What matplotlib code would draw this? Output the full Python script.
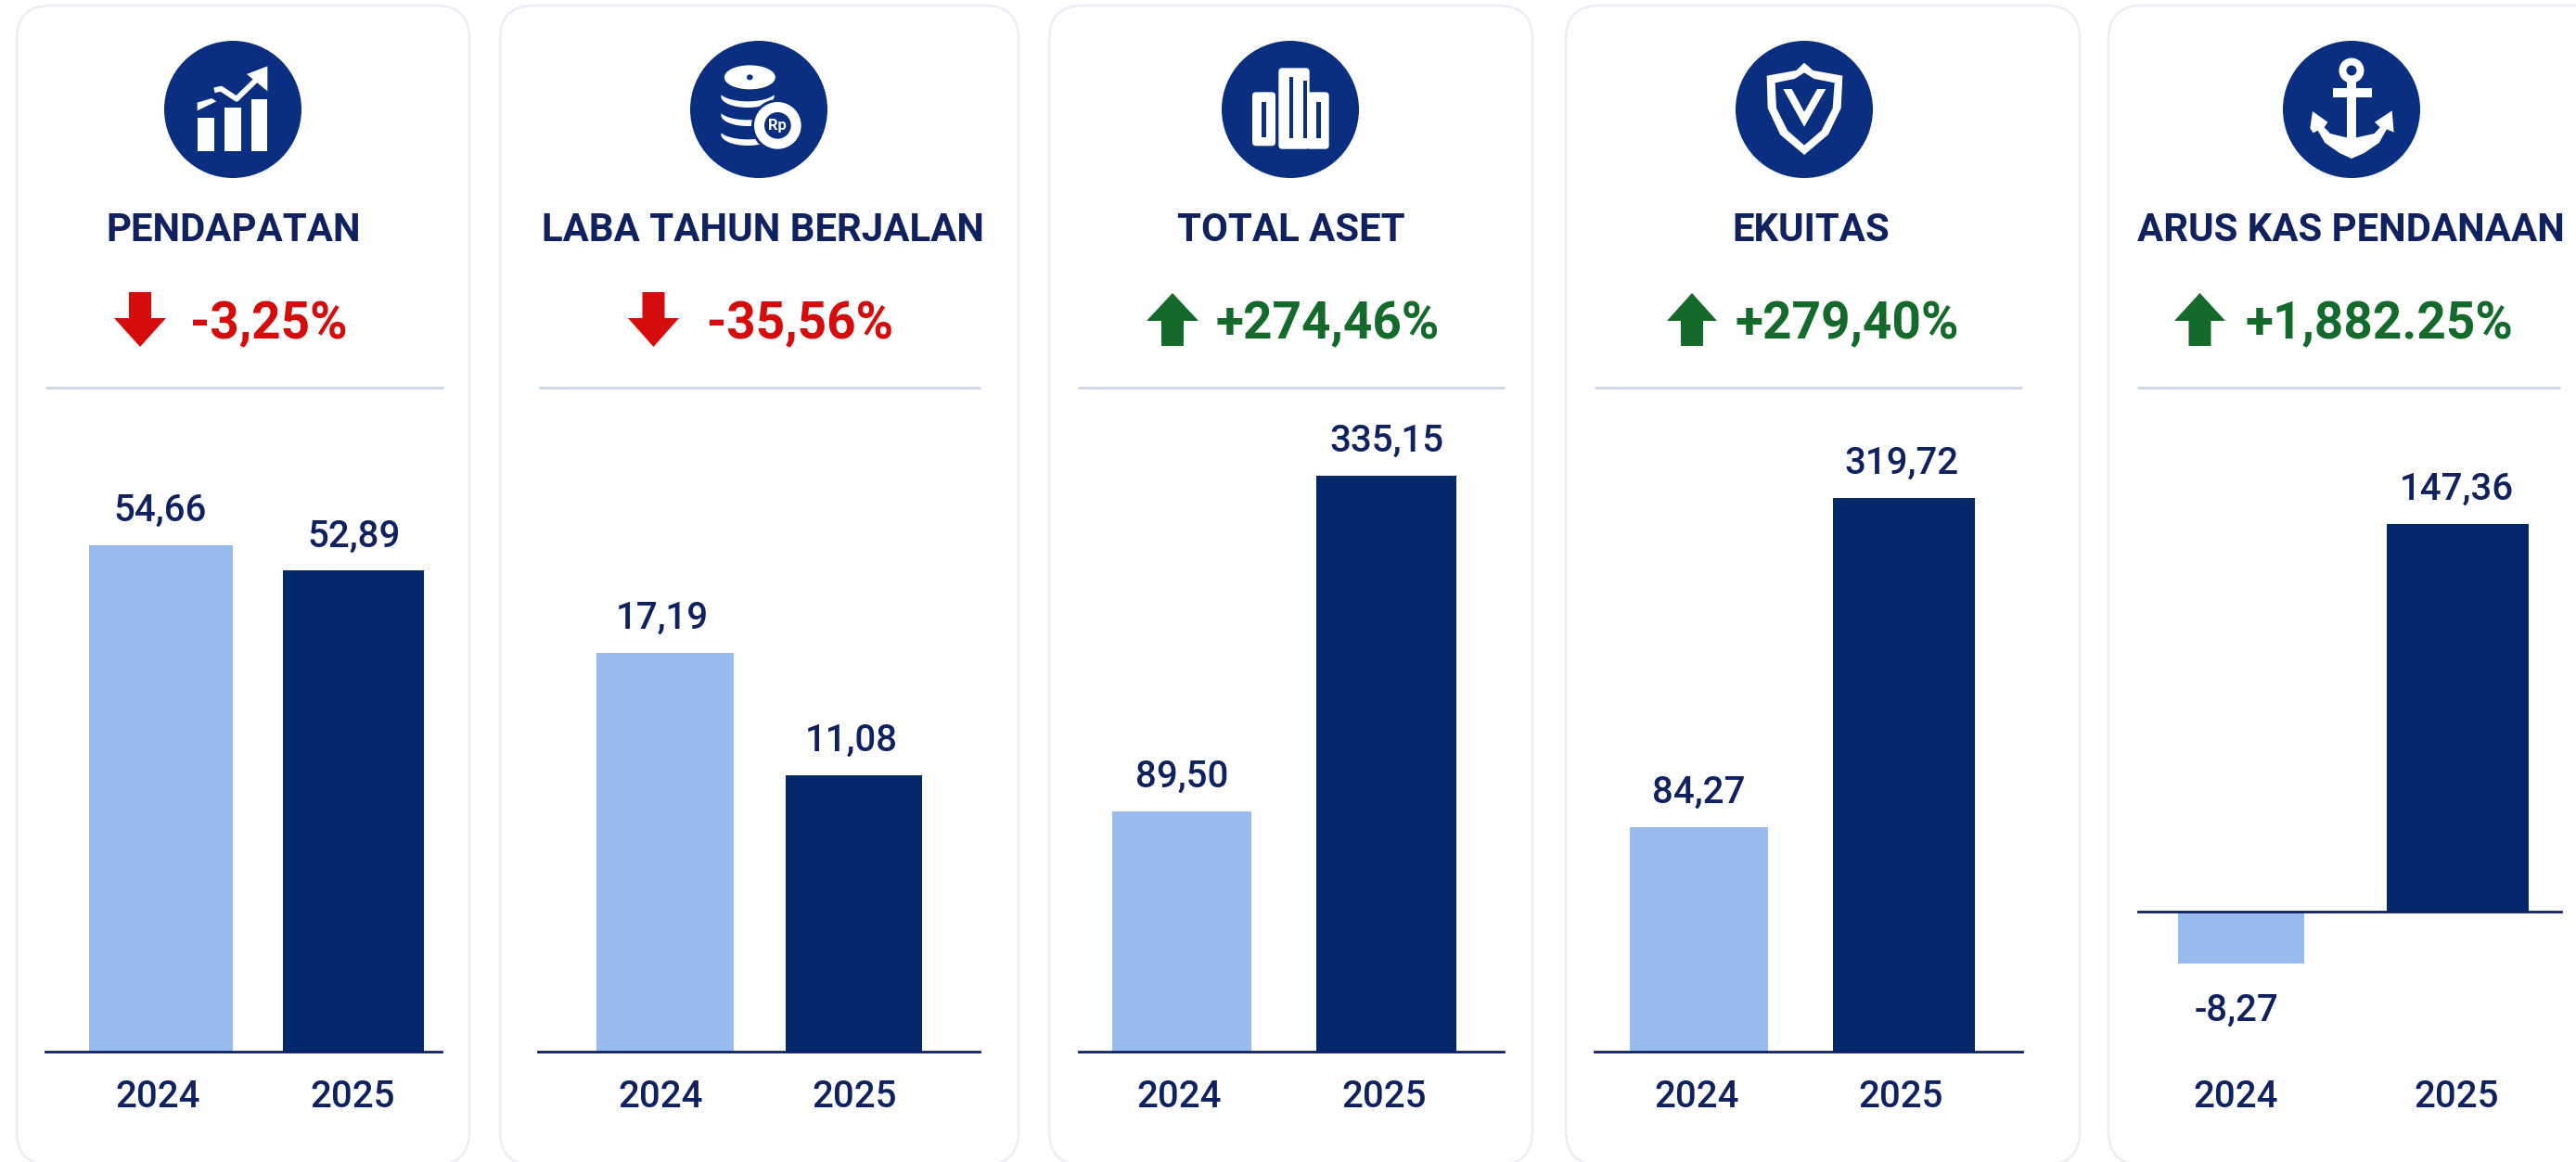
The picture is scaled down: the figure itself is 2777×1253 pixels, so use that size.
import matplotlib
matplotlib.use("Agg")
import matplotlib.pyplot as plt
from matplotlib.patches import Circle, Ellipse, FancyBboxPatch, Polygon

plt.rcParams['font.family'] = ['Roboto', 'DejaVu Sans']

# data
titles = ["PENDAPATAN", "LABA TAHUN BERJALAN", "TOTAL ASET", "EKUITAS", "ARUS KAS PENDANAAN"]
changes = ["-3,25%", "-35,56%", "+274,46%", "+279,40%", "+1,882.25%"]
years = ["2024", "2025"]
labels_2024 = ["54,66", "17,19", "89,50", "84,27", "-8,27"]
labels_2025 = ["52,89", "11,08", "335,15", "319,72", "147,36"]
# the bars in the reference are not to scale with their labels, so these are
# the heights as drawn, read against the tallest bar of each card
drawn_2024 = [54.66, 17.19, 139.9, 129.6, -19.7]
drawn_2025 = [51.91, 11.91, 335.15, 319.72, 147.36]

# colours
NAVY = "#03276B"
LIGHT = "#97BBEE"
TEXT = "#10215F"
ICON = "#0B2F80"
RED = "#D40C0C"
GREEN = "#146A2B"
RULE = "#CBD5E6"
CARD_EDGE = "#ECEEF5"

# layout, in reference pixels
W, H = 2777, 1253
cards = [(18, 506), (539, 1098), (1131, 1652), (1688, 2242), (2273, 2860)]
icon_x = [251, 818, 1391, 1945, 2535]
icon_y = 118
title_x = [252, 823, 1392, 1952, 2534]
arrow_x = [(123, 179), (677, 732), (1236, 1292), (1797, 1851), (2344, 2399)]
change_x = [205, 762, 1310, 1870, 2420]
rule_x = [(49, 478), (581, 1057), (1162, 1622), (1719, 2180), (2304, 2760)]
line_x = [(49, 476), (580, 1056), (1163, 1621), (1719, 2180), (2305, 2761)]
bars_2024 = [(96, 251), (643, 791), (1199, 1349), (1757, 1906), (2348, 2484)]
bars_2025 = [(305, 457), (847, 994), (1419, 1570), (1976, 2129), (2573, 2726)]
tick_x = [(170, 380), (712, 921), (1271, 1492), (1829, 2049), (2410, 2648)]
value_x = [(173, 382), (714, 918), (1274, 1495), (1831, 2050), (2411, 2648)]
base_y = [1134, 1134, 1134, 1134, 983]
tall_px = [546, 430, 621, 597, 418]
AX_TOP, AX_BOTTOM = 430, 1134

fig = plt.figure(figsize=(W / 100, H / 100), dpi=100, facecolor="white")
bg = fig.add_axes([0, 0, 1, 1])
bg.set_xlim(0, W)
bg.set_ylim(H, 0)
bg.axis("off")


def zpts(cx, cy, zc, points):
    return [(cx + (x - zc[0]) / 3, cy + (y - zc[1]) / 3) for x, y in points]


def white_poly(cx, cy, zc, points, color="white"):
    bg.add_patch(Polygon(zpts(cx, cy, zc, points), closed=True, fc=color, ec="none", zorder=4))


def icon_growth(cx, cy):
    zc = (303, 264)
    for x0, x1, y0 in [(188, 243, 290), (275, 330, 258), (362, 415, 230)]:
        white_poly(cx, cy, zc, [(x0, y0), (x1, y0), (x1, 398), (x0, 398)])
    white_poly(cx, cy, zc, [(188, 242), (235, 228), (250, 238), (188, 268)])
    line = zpts(cx, cy, zc, [(243, 202), (265, 197), (315, 230), (385, 162)])
    bg.plot([p[0] for p in line], [p[1] for p in line], color="white", lw=4.2, zorder=4, solid_capstyle="butt")
    white_poly(cx, cy, zc, [(348, 150), (415, 124), (415, 205)])


def icon_coins(cx, cy):
    def ell(zx, zy, w, h, color):
        (px, py), = zpts(cx, cy, (294, 264), [(zx, zy)])
        bg.add_patch(Ellipse((px, py), w / 3, h / 3, fc=color, ec="none", zorder=4))

    for y in [335, 272, 212]:
        ell(258, y + 10, 172, 72, "white")
        ell(258, y - 8, 185, 68, ICON)
    ell(265, 160, 165, 78, "white")
    ell(265, 160, 20, 18, ICON)
    ell(355, 316, 170, 170, ICON)
    ell(355, 316, 152, 152, "white")
    ell(355, 316, 86, 86, ICON)
    (px, py), = zpts(cx, cy, (294, 264), [(355, 316)])
    bg.text(px, py, "Rp", color="white", fontsize=12, fontweight="bold", ha="center", va="center", zorder=5)


def icon_buildings(cx, cy):
    zc = (273, 264)
    for x0, x1, y0, y1 in [(150, 225, 208, 382), (235, 335, 130, 392), (325, 398, 208, 392)]:
        (a, b), (c, d) = zpts(cx, cy, zc, [(x0, y0), (x1, y1)])
        bg.add_patch(FancyBboxPatch((a + 4, b + 4), c - a - 8, d - b - 8, boxstyle="round,pad=4",
                                    fc="white", ec="none", zorder=4))
    for x0, x1, y0, y1 in [(180, 195, 240, 355), (270, 283, 160, 358), (315, 328, 170, 358), (358, 372, 240, 358)]:
        white_poly(cx, cy, zc, [(x0, y0), (x1, y0), (x1, y1), (x0, y1)], color=ICON)


def icon_shield(cx, cy):
    zc = (316, 264)
    white_poly(cx, cy, zc, [(316, 113), (290, 138), (195, 155), (198, 260), (238, 345), (316, 411),
                            (394, 345), (435, 260), (440, 155), (345, 138)])
    white_poly(cx, cy, zc, [(316, 145), (285, 165), (222, 178), (226, 260), (262, 332), (316, 380),
                            (372, 332), (408, 260), (414, 178), (348, 165)], color=ICON)
    white_poly(cx, cy, zc, [(248, 198), (276, 198), (316, 272), (358, 198), (386, 198), (316, 320)])


def icon_anchor(cx, cy):
    zc = (331, 264)
    (px, py), = zpts(cx, cy, zc, [(331, 138)])
    bg.add_patch(Circle((px, py), 13.5, fc="white", ec="none", zorder=4))
    bg.add_patch(Circle((px, py), 5.5, fc=ICON, ec="none", zorder=5))
    white_poly(cx, cy, zc, [(270, 195), (397, 195), (397, 225), (270, 225)])
    white_poly(cx, cy, zc, [(315, 170), (347, 170), (347, 390), (315, 390)])
    white_poly(cx, cy, zc, [(205, 270), (197, 325), (207, 340), (222, 332), (245, 372), (292, 405), (331, 423),
                            (372, 405), (420, 372), (445, 328), (468, 338), (462, 268), (406, 305), (423, 322),
                            (405, 342), (347, 355), (315, 355), (262, 342), (243, 322), (254, 305)])


icon_funcs = [icon_growth, icon_coins, icon_buildings, icon_shield, icon_anchor]

for i in range(5):
    x0, x1 = cards[i]
    # card
    bg.add_patch(FancyBboxPatch((x0 + 36, 6 + 36), x1 - x0 - 72, 1250 - 72,
                                boxstyle="round,pad=36", fc="#FEFEFF", ec=CARD_EDGE, lw=1.8, zorder=1))
    # icon
    bg.add_patch(Circle((icon_x[i], icon_y), 74, fc=ICON, ec="none", zorder=3))
    icon_funcs[i](icon_x[i], icon_y)
    # title
    bg.text(title_x[i], 249, titles[i], color=TEXT, fontsize=30.2, fontweight="bold", ha="center", va="center", zorder=4)

    # change arrow and text
    a0, a1 = arrow_x[i]
    mid = (a0 + a1) / 2
    if changes[i].startswith("-"):
        col = RED
        pts = [(mid - 12, 315), (mid + 12, 315), (mid + 12, 343), (a1, 343), (mid, 374), (a0, 343), (mid - 12, 343)]
    else:
        col = GREEN
        pts = [(mid, 316), (a1, 346), (mid + 12, 346), (mid + 12, 373), (mid - 12, 373), (mid - 12, 346), (a0, 346)]
    bg.add_patch(Polygon(pts, closed=True, fc=col, ec="none", zorder=4))
    bg.text(change_x[i], 350, changes[i], color=col, fontsize=39.5, fontweight="semibold", ha="left", va="center", zorder=4)

    # divider
    bg.plot(rule_x[i], [418, 418], color=RULE, lw=2, zorder=2, solid_capstyle="butt")

    # chart, one axes per card so every card keeps its own scale
    l, r = line_x[i]
    ax = fig.add_axes([l / W, 1 - AX_BOTTOM / H, (r - l) / W, (AX_BOTTOM - AX_TOP) / H])
    ax.patch.set_alpha(0)
    for s in ax.spines.values():
        s.set_visible(False)

    vals = [drawn_2024[i], drawn_2025[i]]
    px_unit = tall_px[i] / max(vals)
    ax.set_ylim(-(AX_BOTTOM - base_y[i]) / px_unit, (base_y[i] - AX_TOP) / px_unit)
    ax.set_xlim(l, r)
    spans = [bars_2024[i], bars_2025[i]]
    for (b0, b1), v, c in zip(spans, vals, [LIGHT, NAVY]):
        ax.bar((b0 + b1) / 2, v, width=b1 - b0, color=c, zorder=2)
    ax.axhline(0, color=TEXT, lw=2, zorder=3, clip_on=False)

    ax.set_xticks(list(tick_x[i]), years)
    ax.tick_params(axis="x", length=0, pad=21.5, labelsize=29, labelcolor=TEXT)
    ax.set_yticks([])
    for t in ax.get_xticklabels():
        t.set_fontweight("medium")

    texts = [labels_2024[i], labels_2025[i]]
    for x, v, s in zip(value_x[i], vals, texts):
        dy = -51 if v < 0 else 37
        ax.annotate(s, (x, v), xytext=(0, dy * 0.72), textcoords="offset points", ha="center", va="center",
                    color=TEXT, fontsize=29, fontweight="medium", annotation_clip=False)

fig.savefig("out.png", dpi=100, facecolor="white")
